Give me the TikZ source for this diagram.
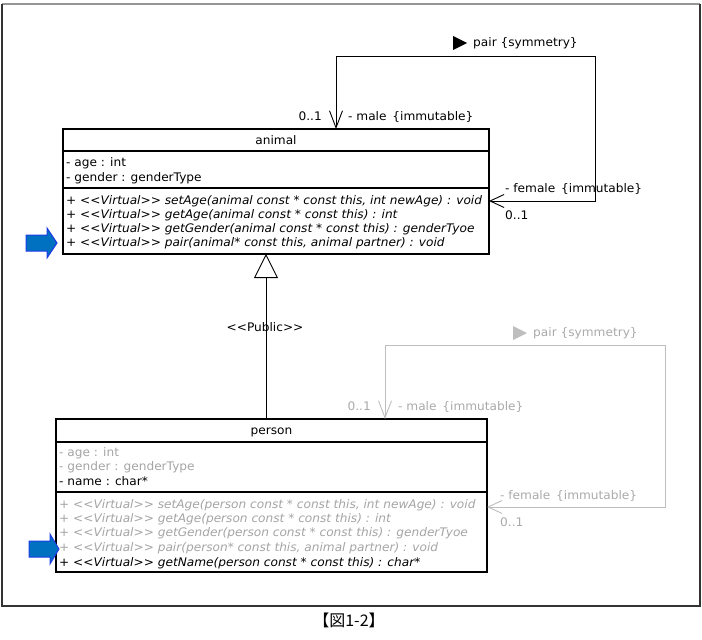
\documentclass[tikz,border=0pt]{standalone}
\usepackage{fontspec}
\setmainfont{DejaVu Sans}
\newfontfamily\ui[FakeStretch=1.03]{DejaVu Sans}
\newfontfamily\cjk{Noto Sans CJK JP}
\newcommand\vstr{<{}<Virtual>{}>}
\usetikzlibrary{arrows.meta}
\definecolor{inh}{RGB}{165,165,165}
\definecolor{lgray}{RGB}{190,190,190}
\definecolor{ltext}{RGB}{170,170,170}
\definecolor{arrfill}{RGB}{0,112,192}
\definecolor{arrline}{RGB}{30,60,230}
\definecolor{frameTop}{RGB}{150,150,150}
\begin{document}
\begin{tikzpicture}[x=1pt,y=-1pt,font=\ui\fontsize{11.8}{13}\selectfont,
  cls/.style={draw,line width=1.6pt,inner sep=0pt,outer sep=0pt,anchor=north west},
  div/.style={line width=1.6pt},
  mem/.style={anchor=west,inner sep=0pt,text height=8pt,text depth=2pt},
  meth/.style={mem,font=\ui\fontsize{11.8}{13}\selectfont\itshape},
  lbl/.style={inner sep=0pt,text height=8pt,text depth=2pt},
  assoc/.style={line width=0.9pt},
  blockarrow/.style={fill=arrfill,draw=arrline,line width=1pt,line join=miter}
]
\useasboundingbox (0,0) rectangle (702,640);
\fill[white] (0,0) rectangle (702,640);
% frame
\draw[frameTop,line width=1.3pt] (2,4) -- (700,4);
\draw[black!80,line width=1.3pt] (2,4) -- (2,606) -- (700,606) -- (700,4);

% ---------- animal ----------
\node[cls,minimum width=426pt,minimum height=125pt] (animal) at (63,129) {};
\draw[div] (animal.west |- 0,151) -- (animal.east |- 0,151);
\draw[div] (animal.west |- 0,188) -- (animal.east |- 0,188);
\node[lbl] (animalT) at (animal.north |- 0,141) {animal};
\node[mem] (a1) at (66,163) {- age : int};
\node[mem] (a2) at (66,178) {- gender : genderType};
\node[meth] (am1) at (66,201) {+ \vstr{} setAge(animal const * const this, int newAge) : void};
\node[meth] (am2) at (66,215) {+ \vstr{} getAge(animal const * const this) : int};
\node[meth] (am3) at (66,229) {+ \vstr{} getGender(animal const * const this) : genderTyoe};
\node[meth] (am4) at (66,243) {+ \vstr{} pair(animal* const this, animal partner) : void};

% ---------- person ----------
\node[cls,minimum width=431pt,minimum height=153pt] (person) at (56,419) {};
\draw[div] (person.west |- 0,442) -- (person.east |- 0,442);
\draw[div] (person.west |- 0,492) -- (person.east |- 0,492);
\node[lbl] (personT) at (person.north |- 0,431) {person};
\node[mem,text=inh] (p1) at (59,453) {- age : int};
\node[mem,text=inh] (p2) at (59,467) {- gender : genderType};
\node[mem] (p3) at (59,482) {- name : char*};
\node[meth,text=inh] (pm1) at (59,505) {+ \vstr{} setAge(person const * const this, int newAge) : void};
\node[meth,text=inh] (pm2) at (59,519) {+ \vstr{} getAge(person const * const this) : int};
\node[meth,text=inh] (pm3) at (59,533) {+ \vstr{} getGender(person const * const this) : genderTyoe};
\node[meth,text=inh] (pm4) at (59,548) {+ \vstr{} pair(person* const this, animal partner) : void};
\node[meth] (pm5) at (59,563) {+ \vstr{} getName(person const * const this) : char*};

% ---------- generalization ----------
\coordinate (gx) at (266,0);
\draw[line width=0.9pt,-{Triangle[open,length=24pt,width=24pt,line width=0.9pt]}] (person.north -| gx) -- (animal.south -| gx);
\node[lbl] (pub) at (265,328) {<{}<Public>{}>};

% ---------- animal self association ----------
\coordinate (aTL) at (336,56);
\coordinate (aBR) at (595,201);
\draw[assoc,{Straight Barb[length=14pt,width=13pt,line width=0.9pt]}-{Straight Barb[length=17pt,width=13pt,line width=0.9pt]}]
  (animal.east |- aBR) -- (aBR) |- (aTL) -- (aTL |- animal.north);
\fill (453,36) -- (467,43) -- (453,50) -- cycle;
\node[lbl,anchor=west] (apair) at (473,43) {pair \{symmetry\}};
\node[lbl,anchor=east] (am01) at (322,117) {0..1};
\node[lbl,anchor=west] (amale) at (348,117) {- male \,\{immutable\}};
\node[lbl,anchor=west] (afem) at (505,189) {- female \,\{immutable\}};
\node[lbl,anchor=west] (af01) at (505,216) {0..1};

% ---------- person self association (inherited) ----------
\coordinate (pTL) at (385,345);
\coordinate (pBR) at (665,507);
\draw[assoc,lgray,{Straight Barb[length=14pt,width=13pt,line width=0.9pt]}-{Straight Barb[length=17pt,width=13pt,line width=0.9pt]}]
  (person.east |- pBR) -- (pBR) |- (pTL) -- (pTL |- person.north);
\fill[lgray] (513,326) -- (527,333) -- (513,340) -- cycle;
\node[lbl,anchor=west,text=ltext] (ppair) at (533,333) {pair \{symmetry\}};
\node[lbl,anchor=east,text=ltext] (pm01) at (371,407) {0..1};
\node[lbl,anchor=west,text=ltext] (pmale) at (398,407) {- male \,\{immutable\}};
\node[lbl,anchor=west,text=ltext] (pfem) at (500,496) {- female \,\{immutable\}};
\node[lbl,anchor=west,text=ltext] (pf01) at (500,523) {0..1};

% ---------- blue marker arrows ----------
\draw[blockarrow] (26,235) -- (47,235) -- (47,228) -- (57,243) -- (47,258) -- (47,251) -- (26,251) -- cycle;
\draw[blockarrow] (29,541) -- (50,541) -- (50,534) -- (59,549) -- (50,564) -- (50,557) -- (29,557) -- cycle;

% caption
\node[font=\cjk\fontsize{16}{18}\selectfont,inner sep=0pt] (cap) at (349,620) {【図1-2】};
\end{tikzpicture}
\end{document}
